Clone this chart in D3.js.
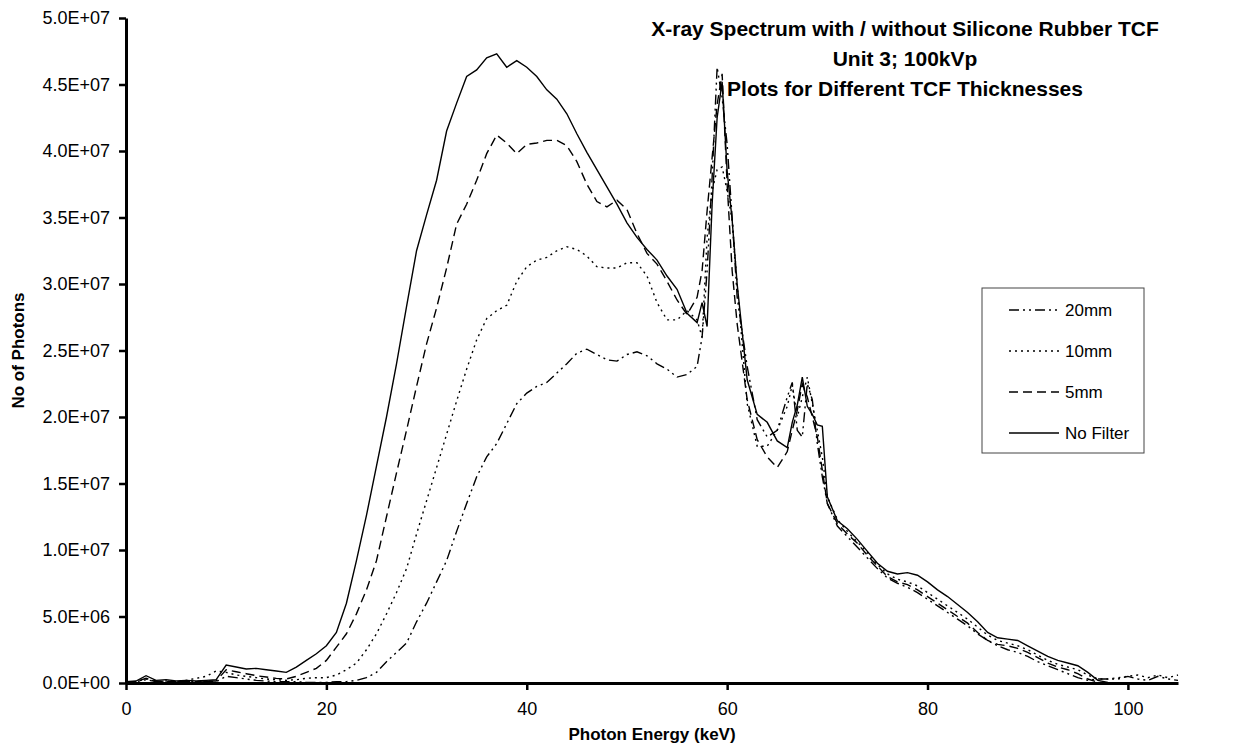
<!DOCTYPE html>
<html>
<head>
<meta charset="utf-8">
<script src="https://cdn.jsdelivr.net/npm/d3@7"></script>
<style>
  body { margin: 0; background: #fff; }
  text { font-family: "Liberation Sans", Arial, sans-serif; fill: #000; }
</style>
</head>
<body>
<svg id="chart" width="1241" height="747"></svg>
<script>
// photon energy (keV), values in millions of photons
const energy = [
  0,1,2,3,4,5,6,7,8,9,10,11,12,13,14,15,16,17,18,19,
  20,21,22,23,24,25,26,27,28,29,30,31,32,33,34,35,36,37,38,39,
  40,41,42,43,44,45,46,47,48,49,50,51,52,53,54,55,56,57,
  57.5,58,58.5,59,59.5,60,60.5,61,62,63,64,65,66,
  66.5,67,67.5,68,68.5,69,69.5,70,
  71,72,73,74,75,76,77,78,79,80,81,82,83,84,85,86,87,88,89,90,
  91,92,93,94,95,96,97,98,99,100,101,102,103,104,105
];

const noFilter = [
  0.1,0.15,0.55,0.2,0.25,0.15,0.2,0.15,0.2,0.25,1.35,1.2,1.05,1.1,1.0,0.9,0.8,1.2,1.7,2.2,
  2.8,3.8,6.0,9.2,12.6,16.3,20.0,24.0,28.3,32.5,35.2,37.8,41.5,43.6,45.6,46.1,47.0,47.3,46.3,46.8,
  46.3,45.6,44.6,43.9,42.8,41.3,39.9,38.6,37.3,36.0,34.6,33.5,32.6,31.8,30.6,29.6,27.8,27.1,
  28.6,26.8,36.0,42.5,45.2,38.5,34.8,30.0,22.8,20.2,19.6,18.2,17.7,
  19.6,20.9,23.0,20.8,20.2,19.4,19.3,14.0,
  12.2,11.6,10.8,9.9,9.0,8.4,8.2,8.3,8.1,7.6,7.0,6.5,5.9,5.3,4.6,3.8,3.4,3.3,3.2,2.8,
  2.4,2.0,1.7,1.5,1.3,0.8,0.2,0.05,0,0,0,0,0,0,0
];

const filter5mm = [
  0.05,0.1,0.35,0.15,0.1,0.1,0.15,0.1,0.15,0.15,1.0,0.85,0.7,0.55,0.45,0.35,0.3,0.5,0.8,1.1,
  1.7,2.7,3.7,5.2,7.0,9.2,12.5,15.8,19.0,22.3,25.5,28.2,31.2,34.5,36.0,37.8,39.8,41.2,40.6,39.8,
  40.5,40.6,40.8,40.8,40.4,39.2,37.5,36.2,35.8,36.3,35.6,33.8,32.3,31.5,30.2,28.8,27.7,29.0,
  31.0,35.5,39.5,43.5,45.8,37.5,31.0,27.0,21.3,18.3,17.0,16.2,17.4,
  19.0,20.5,22.5,21.5,20.0,18.5,16.0,13.5,
  12.0,11.2,10.5,9.6,8.8,8.0,7.6,7.4,7.0,6.5,6.0,5.5,5.0,4.5,3.8,3.2,2.9,2.8,2.6,2.3,
  1.9,1.5,1.2,1.0,0.7,0.3,0.05,0,0,0,0,0,0,0,0
];

const filter10mm = [
  0.1,0.1,0.25,0.1,0.15,0.1,0.2,0.35,0.5,0.9,0.8,0.6,0.5,0.4,0.3,0.25,0.2,0.25,0.35,0.4,
  0.4,0.6,1.0,1.5,2.5,3.7,5.2,6.8,8.6,11.2,13.7,16.2,18.7,21.2,23.6,25.8,27.4,28.0,28.4,30.2,
  31.3,31.8,32.0,32.5,32.8,32.6,32.1,31.3,31.2,31.2,31.6,31.6,30.6,28.6,27.3,27.3,28.0,27.3,
  26.0,33.5,37.0,38.6,38.8,37.0,34.8,30.0,21.0,17.8,17.8,19.0,20.8,
  22.4,20.0,21.5,23.0,21.0,19.0,17.0,14.0,
  12.3,11.4,10.6,9.8,8.9,8.2,7.8,7.6,7.3,6.8,6.3,5.8,5.3,4.8,4.2,3.6,3.2,3.0,2.8,2.5,
  2.1,1.7,1.4,1.2,1.0,0.6,0.3,0.3,0.4,0.5,0.6,0.4,0.6,0.4,0.6
];

const filter20mm = [
  0.1,0.1,0.3,0.1,0.15,0.1,0.15,0.1,0.15,0.1,0.5,0.4,0.3,0.2,0.15,0.1,0.1,0.1,0.05,0.05,
  0.05,0.1,0.1,0.2,0.4,0.8,1.6,2.3,3.0,4.6,6.0,7.6,9.2,11.4,13.5,15.5,17.0,18.0,19.5,21.0,
  21.8,22.3,22.6,23.3,24.0,24.8,25.1,24.7,24.3,24.2,24.7,24.9,24.6,24.0,23.6,23.0,23.2,23.8,
  26.0,31.0,38.0,46.3,44.0,40.5,35.0,29.0,23.8,19.8,18.5,19.0,21.5,
  22.6,19.0,18.5,22.5,21.3,18.0,15.5,13.5,
  11.8,11.0,10.2,9.4,8.6,7.9,7.5,7.2,6.8,6.3,5.8,5.3,4.8,4.3,3.7,3.2,2.8,2.5,2.3,2.0,
  1.6,1.3,1.0,0.7,0.4,0.2,0.3,0.3,0.3,0.5,0.3,0.2,0.5,0.3,0.2
];

const seriesNames = ['20mm', '10mm', '5mm', 'No Filter'];
const seriesValues = [filter20mm, filter10mm, filter5mm, noFilter];
const seriesDash = ['10,4,2,4,2,4', '2,4', '9,5', null];

const xTicks = [0, 20, 40, 60, 80, 100];
const yTicks = d3.range(0, 5.01e7, 5e6);

const titleLines = [
  'X-ray Spectrum with / without Silicone Rubber TCF',
  'Unit 3; 100kVp',
  'Plots for Different TCF Thicknesses'
];

const margin = {left: 126, right: 63, top: 18, bottom: 64};
const width = 1241, height = 747;
const innerWidth = width - margin.left - margin.right;
const innerHeight = height - margin.top - margin.bottom;

const svg = d3.select('#chart');

const x = d3.scaleLinear().domain([0, 105]).range([0, innerWidth]);
const y = d3.scaleLinear().domain([0, 5e7]).range([innerHeight, 0]);

function sciFormat(v) {
    if (v === 0) return '0.0E+00';
    const e = Math.floor(Math.log10(v) + 1e-9);
    const m = v / Math.pow(10, e);
    return `${m.toFixed(1)}E+${String(e).padStart(2, '0')}`;
}

const g = svg.append('g')
    .attr('transform', `translate(${margin.left}, ${margin.top})`);

// lines
const line = d3.line()
    .x((d, i) => x(energy[i]))
    .y(d => y(d * 1e6));

seriesValues.forEach((vals, k) => {
    g.append('path')
        .datum(vals)
        .attr('d', line)
        .style('fill', 'none')
        .style('stroke', '#000')
        .style('stroke-width', 1.4)
        .style('stroke-dasharray', seriesDash[k]);
});

// axes
const xAxis = g.append('g')
    .attr('transform', `translate(0, ${innerHeight})`)
    .call(d3.axisBottom(x).tickValues(xTicks).tickSize(7).tickPadding(12).tickSizeOuter(0));

const yAxis = g.append('g')
    .call(d3.axisLeft(y).tickValues(yTicks).tickFormat(sciFormat).tickSize(7).tickPadding(9).tickSizeOuter(0));

[xAxis, yAxis].forEach(a => {
    a.select('.domain').style('stroke', '#000').style('stroke-width', 3);
    a.selectAll('.tick line').style('stroke', '#000').style('stroke-width', 2.5);
    a.selectAll('.tick text')
        .style('font-family', '"Liberation Sans", Arial, sans-serif')
        .style('font-size', '18px')
        .style('fill', '#000');
});

// axis titles
g.append('text')
    .attr('x', innerWidth / 2)
    .attr('y', innerHeight + 57)
    .style('text-anchor', 'middle')
    .style('font-size', '17px')
    .style('font-weight', 'bold')
    .text('Photon Energy (keV)');

g.append('text')
    .attr('transform', `translate(${-margin.left + 24}, ${innerHeight / 2}) rotate(-90)`)
    .style('text-anchor', 'middle')
    .style('font-size', '17px')
    .style('font-weight', 'bold')
    .text('No of Photons');

// title
svg.selectAll('.titleLine')
    .data(titleLines)
    .join('text')
        .classed('titleLine', true)
        .attr('x', 905)
        .attr('y', (d, i) => 36 + i * 30)
        .style('text-anchor', 'middle')
        .style('font-size', '21px')
        .style('font-weight', 'bold')
        .text(d => d);

// legend
const legend = svg.append('g').attr('transform', 'translate(982, 288)');

legend.append('rect')
    .attr('width', 162)
    .attr('height', 165)
    .style('fill', '#fff')
    .style('stroke', '#444')
    .style('stroke-width', 1);

seriesNames.forEach((name, k) => {
    const ly = 22 + k * 41;
    legend.append('line')
        .attr('x1', 27).attr('x2', 77)
        .attr('y1', ly).attr('y2', ly)
        .style('stroke', '#000')
        .style('stroke-width', 1.5)
        .style('stroke-dasharray', seriesDash[k]);
    legend.append('text')
        .attr('x', 83)
        .attr('y', ly)
        .attr('dy', '0.35em')
        .style('font-size', '17px')
        .text(name);
});
</script>
</body>
</html>
